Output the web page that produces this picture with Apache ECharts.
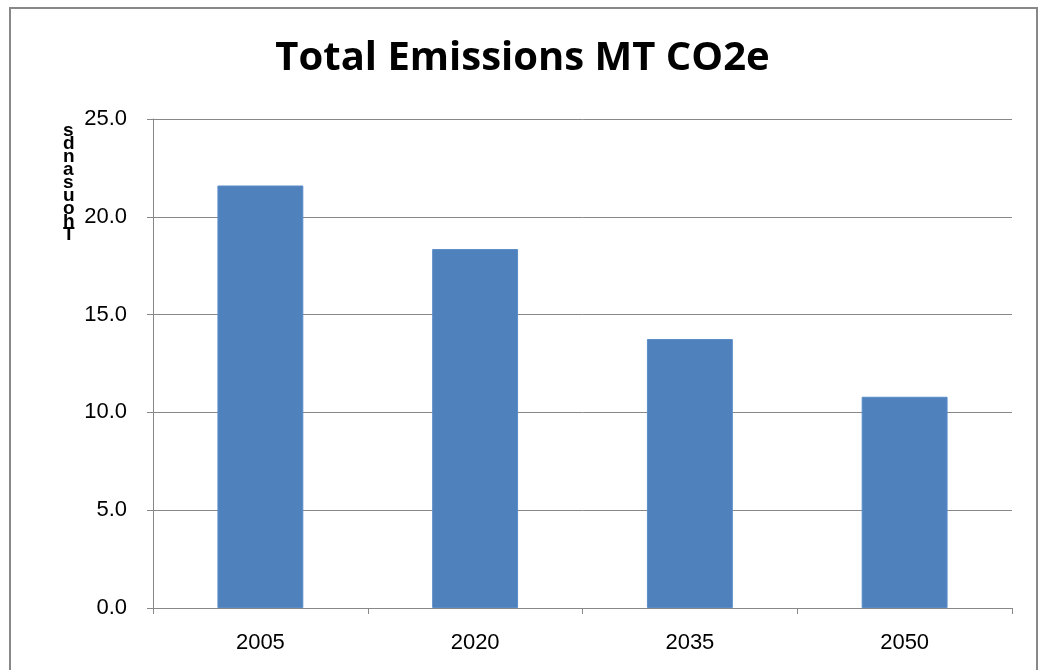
<!DOCTYPE html>
<html>
<head>
<meta charset="utf-8">
<script src="https://cdn.jsdelivr.net/npm/echarts@6/dist/echarts.min.js"></script>
<style>html,body{margin:0;padding:0;background:#fff}#c{width:1045px;height:670px}</style>
</head>
<body>
<div id="c"></div>
<script>
const categories = ['2005', '2020', '2035', '2050'];
const emissions = [21.6, 18.35, 13.75, 10.8];
const yTicks = { min: 0, max: 25, interval: 5 };
const titleText = 'Total Emissions MT CO2e';
const yName = 'Thousands';

const chart = echarts.init(document.getElementById('c'), null, { renderer: 'canvas' });
const stacked = yName.split('').reverse().join('\n');
chart.setOption({
  animation: false,
  backgroundColor: '#fff',
  title: {
    text: titleText,
    left: 'center',
    top: 34,
    textStyle: { fontFamily: 'Open Sans', fontWeight: 'bold', fontSize: 40, color: '#000' }
  },
  grid: { left: 153, right: 33, top: 119, bottom: 62, containLabel: false },
  graphic: [
    { type: 'rect', shape: { x: 10, y: 8, width: 1027, height: 700 }, style: { fill: 'none', stroke: '#888', lineWidth: 2 }, silent: true },
    { type: 'text', left: 63, top: 121, style: { text: stacked, fontFamily: 'Liberation Sans', fontWeight: 'bold', fontSize: 19, lineHeight: 13, fill: '#000', align: 'center' } }
  ],
  xAxis: {
    type: 'category',
    data: categories,
    axisLine: { lineStyle: { color: '#888', width: 1 } },
    axisTick: { show: true, length: 6, alignWithLabel: false, lineStyle: { color: '#888' } },
    axisLabel: { fontFamily: 'Liberation Sans', fontSize: 22, color: '#000', margin: 24 }
  },
  yAxis: {
    type: 'value',
    min: yTicks.min, max: yTicks.max, interval: yTicks.interval,
    axisLine: { show: true, lineStyle: { color: '#888', width: 1 } },
    axisTick: { show: true, length: 6, lineStyle: { color: '#888' } },
    splitLine: { lineStyle: { color: '#888', width: 1 } },
    axisLabel: { fontFamily: 'Liberation Sans', fontSize: 22, color: '#000', margin: 26, formatter: v => v.toFixed(1) }
  },
  series: [{
    type: 'bar',
    data: emissions,
    barWidth: '40%',
    itemStyle: { color: '#4F81BD', borderColor: '#5a8cc8', borderWidth: 1 }
  }]
});
</script>
</body>
</html>
